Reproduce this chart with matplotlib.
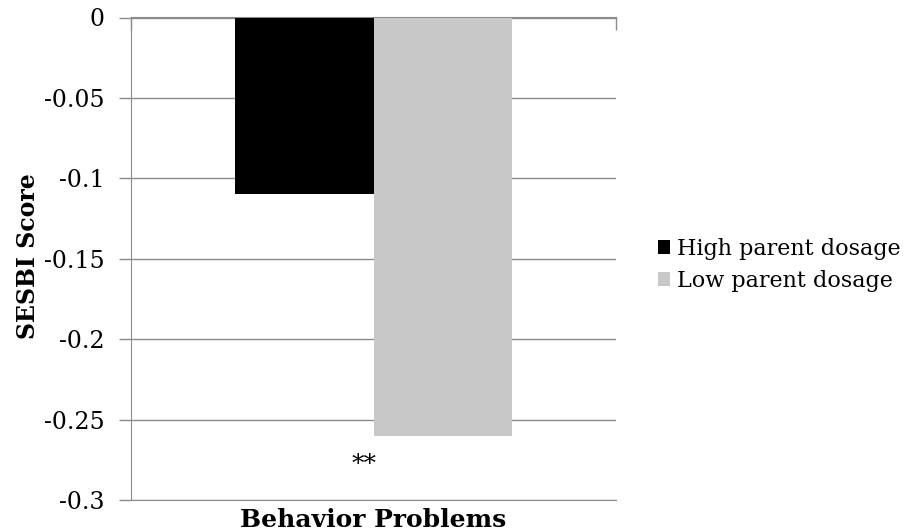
import matplotlib.pyplot as plt
import numpy as np

categories = ["Behavior Problems"]
series_names = ["High parent dosage", "Low parent dosage"]
high_dosage = [-0.11]
low_dosage = [-0.26]
colors = ["#000000", "#c8c8c8"]
yticks = [0, -0.05, -0.1, -0.15, -0.2, -0.25, -0.3]
ytick_labels = ["0", "-0.05", "-0.1", "-0.15", "-0.2", "-0.25", "-0.3"]
grid_col = "#8c8c8c"

plt.rcParams['font.family'] = ['DejaVu Serif']

fig = plt.figure(figsize=(9.08, 5.32), dpi=100)
ax = fig.add_axes([131 / 908, 1 - 500 / 532, 485 / 908, 482.5 / 532])

x = np.arange(len(categories))
w = 0.285
ax.bar(x - w / 2, high_dosage, w, color=colors[0], label=series_names[0], zorder=2)
ax.bar(x + w / 2, low_dosage, w, color=colors[1], label=series_names[1], zorder=2)

ax.set_xlim(-0.5, 0.5)
ax.set_ylim(-0.3, 0)
ax.set_yticks(yticks)
ax.set_yticklabels(ytick_labels, fontsize=17)
ax.yaxis.grid(True, color=grid_col, linewidth=1, zorder=0)
ax.tick_params(axis='y', length=9, width=1, color=grid_col, pad=10)
ax.set_xticks(x)
ax.set_xticklabels(categories, fontsize=18, fontweight='bold')
ax.tick_params(axis='x', length=0, pad=6)

# category axis sits at y=0 (top), with boundary ticks pointing down
top = ax.secondary_xaxis('top')
top.set_xticks([-0.5, 0.5])
top.set_xticklabels(["", ""])
top.tick_params(direction='in', length=9, width=1, color=grid_col)
top.spines['top'].set_color(grid_col)

for s in ['top', 'right']:
    ax.spines[s].set_visible(False)
ax.spines['left'].set_color(grid_col)
ax.spines['bottom'].set_color(grid_col)

fig.text(28 / 908, 1 - 256 / 532, "SESBI Score", rotation=90, ha='center', va='center',
         fontsize=17, fontweight='bold')

ax.text(-0.02, -0.278, "**", ha='center', va='center', fontsize=18)

fig.legend(loc='center left', bbox_to_anchor=(658 / 908, 1 - 265 / 532), frameon=False,
           fontsize=16, handlelength=0.55, handleheight=0.55, handletextpad=0.3,
           labelspacing=0.45, borderpad=0, borderaxespad=0)

fig.savefig("out.png", dpi=100)
